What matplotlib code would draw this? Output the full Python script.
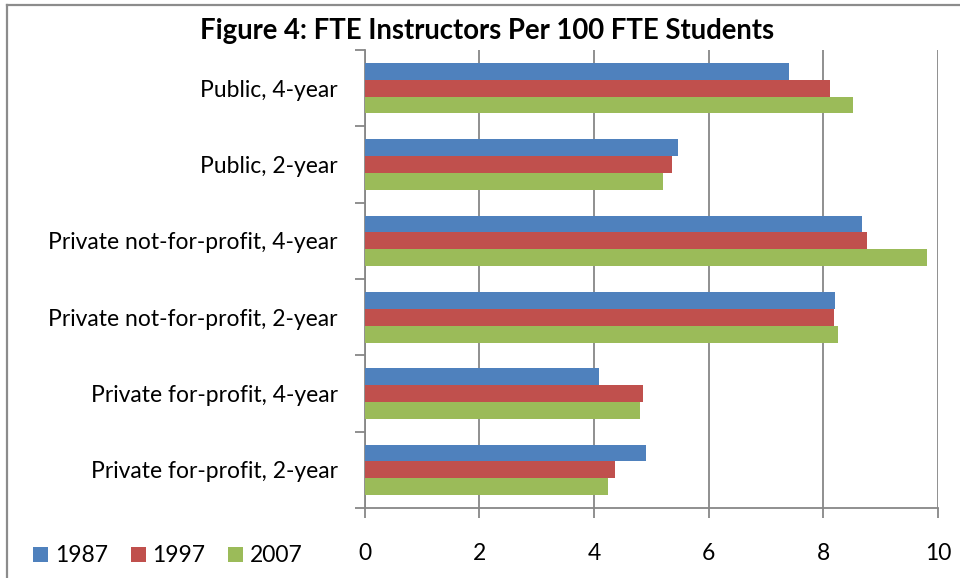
import numpy as np
import matplotlib
matplotlib.use('Agg')
import matplotlib.pyplot as plt
from matplotlib.lines import Line2D

categories = [
	'Public, 4-year',
	'Public, 2-year',
	'Private not-for-profit, 4-year',
	'Private not-for-profit, 2-year',
	'Private for-profit, 4-year',
	'Private for-profit, 2-year',
]
years = ['1987', '1997', '2007']
values_1987 = [7.40, 5.46, 8.68, 8.21, 4.09, 4.90]
values_1997 = [8.12, 5.36, 8.76, 8.19, 4.85, 4.37]
values_2007 = [8.52, 5.20, 9.81, 8.25, 4.80, 4.25]
x_ticks = [0, 2, 4, 6, 8, 10]

colors = ['#4F81BD', '#C0504D', '#9BBB59']
grid_color = '#878787'

plt.rcParams['font.family'] = ['Lato', 'DejaVu Sans']


def draw_chart():
	fig = plt.figure(figsize=(9.6, 5.78), dpi=100)
	ax = fig.add_axes([0.380, 0.121, 0.597, 0.7925])

	y = np.arange(len(categories))
	bar_h = 0.221
	series = [values_1987, values_1997, values_2007]
	for i, vals in enumerate(series):
		ax.barh(y + (i - 1) * bar_h, vals, height=bar_h, color=colors[i],
				label=years[i], zorder=3)

	ax.set_xlim(0, 10)
	ax.set_ylim(len(categories) - 0.5, -0.5)
	ax.set_xticks(x_ticks)
	ax.set_xticklabels([str(t) for t in x_ticks])
	ax.set_yticks(y)
	ax.set_yticklabels(categories)
	ax.set_yticks(np.arange(-0.5, len(categories)), minor=True)

	ax.tick_params(axis='y', which='major', length=0, pad=19.5, labelsize=16.5)
	ax.tick_params(axis='y', which='minor', length=7, width=1.3, color=grid_color, direction='out')
	ax.tick_params(axis='x', length=7, width=1.3, color=grid_color, pad=18, labelsize=16.5)

	ax.grid(axis='x', color=grid_color, linewidth=1.3, zorder=0)
	for name, spine in ax.spines.items():
		if name in ('left', 'bottom'):
			spine.set_color(grid_color)
			spine.set_linewidth(1.3)
		else:
			spine.set_visible(False)

	fig.text(0.507, 0.947, 'Figure 4: FTE Instructors Per 100 FTE Students',
			 ha='center', va='center', fontsize=19.8, fontweight='bold')

	# chart border (top and left visible)
	fig.add_artist(Line2D([7 / 960, 7 / 960], [0, 1 - 5 / 578], color='#8c8c8c', linewidth=1.6))
	fig.add_artist(Line2D([7 / 960, 1], [1 - 5 / 578, 1 - 5 / 578], color='#8c8c8c', linewidth=1.6))

	fig.legend(loc='center left', bbox_to_anchor=(33 / 960, 1 - 556 / 578),
			   ncol=3, frameon=False, fontsize=16.5, handlelength=0.65, handleheight=0.65,
			   handletextpad=0.3, columnspacing=1.0, borderpad=0, borderaxespad=0)

	fig.savefig('out.png', dpi=100, facecolor='white')


def main():
	draw_chart()


if __name__ == '__main__':
	main()
